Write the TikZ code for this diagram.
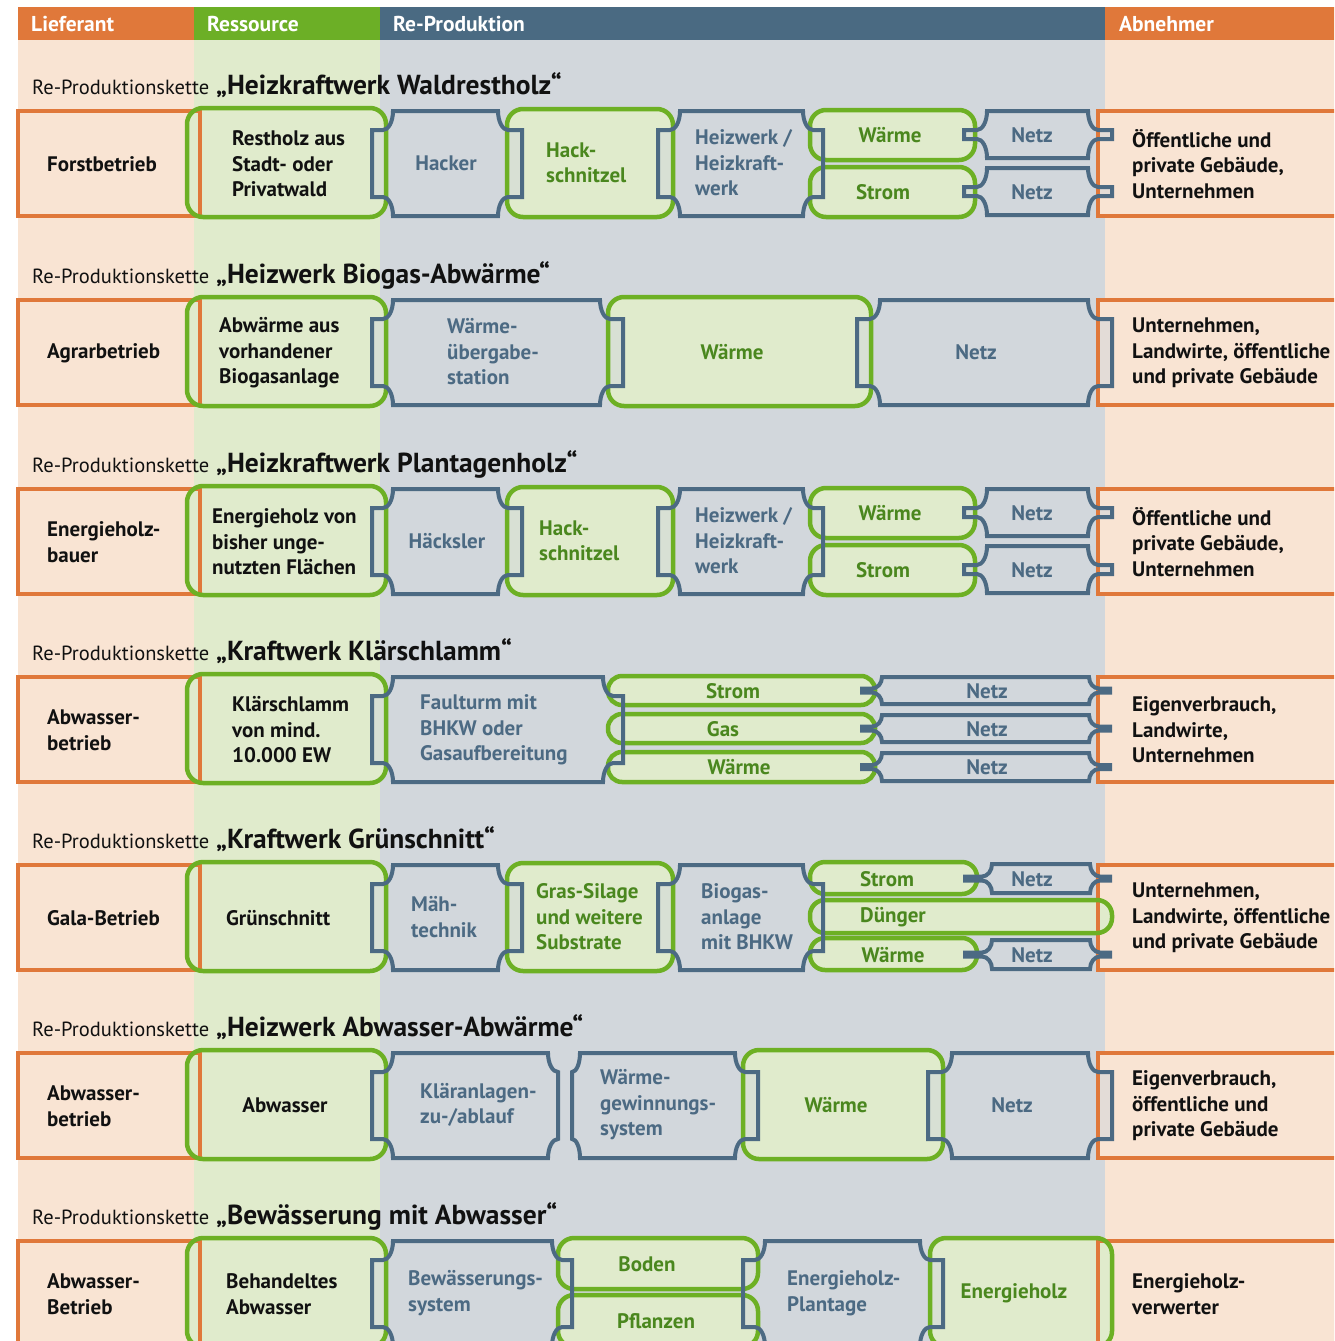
\documentclass[tikz,border=0pt]{standalone}
\usepackage{fontspec}
\setmainfont{PT Sans}
\definecolor{peach}{HTML}{F9E4D3}
\definecolor{orangeh}{HTML}{E0783A}
\definecolor{greenh}{HTML}{6CAF26}
\definecolor{lgreen}{HTML}{E0EBCC}
\definecolor{blueh}{HTML}{4A6A82}
\definecolor{greybg}{HTML}{D2D7DC}
\definecolor{bluel}{HTML}{4C6A83}
\definecolor{gline}{HTML}{6DB024}
\definecolor{gtext}{HTML}{4A871E}
\definecolor{ktext}{HTML}{111111}
\newcount\rpass
\newcount\nodecnt
\tikzset{
  ostroke/.style={draw=orangeh, line width=4.5pt},
  gstroke/.style={draw=gline, line width=4.5pt},
  bstroke/.style={draw=bluel, line width=4pt},
  bfill/.style={fill=greybg, fill opacity=0.55},
  boxfont/.style={font=\bfseries\fontsize{21}{25.5}\selectfont, align=left, inner sep=0pt},
  tk/.style={boxfont, text=ktext},
  tbu/.style={boxfont, text=bluel},
  tgr/.style={boxfont, text=gtext},
  headtxt/.style={font=\bfseries\fontsize{21.5}{24}\selectfont, text=white, anchor=west, inner sep=0pt}
}
% orange box
\newcommand\OB[4]{%
  \ifnum\rpass=0 \path[fill=peach] (#1,#3) rectangle (#2,#4);\fi
  \ifnum\rpass=2 \draw[ostroke] (#1,#3) rectangle (#2,#4);\fi}
% green rounded box
\newcommand\GB[5][16pt]{%
  \ifnum\rpass=0 \path[fill=lgreen, rounded corners=#1] (#2,#4) rectangle (#3,#5);\fi
  \ifnum\rpass=2 \draw[gstroke, rounded corners=#1] (#2,#4) rectangle (#3,#5);\fi}
% blue ticket shape: xl, xr (top edge ends), top, bottom, left ear, right ear
\newcommand\BB[6]{%
  \pgfmathsetmacro\BBt{#3}\pgfmathsetmacro\BBb{#4}%
  \pgfmathsetmacro\BBry{min(19,(\BBb-\BBt)/2-2)}%
  \pgfmathsetmacro\BBrl{min(10,#5)}%
  \pgfmathsetmacro\BBrr{min(10,#6)}%
  \def\BBpath{(#1,\BBt) -- (#2,\BBt)
    .. controls (#2,\BBt+0.55*\BBry) and (#2+0.45*\BBrr,\BBt+\BBry) .. (#2+\BBrr,\BBt+\BBry)
    -- (#2+#6,\BBt+\BBry) -- (#2+#6,\BBb-\BBry) -- (#2+\BBrr,\BBb-\BBry)
    .. controls (#2+0.45*\BBrr,\BBb-\BBry) and (#2,\BBb-0.55*\BBry) .. (#2,\BBb)
    -- (#1,\BBb)
    .. controls (#1,\BBb-0.55*\BBry) and (#1-0.45*\BBrl,\BBb-\BBry) .. (#1-\BBrl,\BBb-\BBry)
    -- (#1-#5,\BBb-\BBry) -- (#1-#5,\BBt+\BBry) -- (#1-\BBrl,\BBt+\BBry)
    .. controls (#1-0.45*\BBrl,\BBt+\BBry) and (#1,\BBt+0.55*\BBry) .. (#1,\BBt) -- cycle}%
  \ifnum\rpass=1 \path[bfill] \BBpath;\fi
  \ifnum\rpass=2 \draw[bstroke] \BBpath;\fi}
\newcommand\ThreePass[1]{\rpass=0 #1\rpass=1 #1\rpass=2 #1}
\newcommand\TL[4]{\global\advance\nodecnt by 1 \node[#1, anchor=west] (t\the\nodecnt) at (#2,#3) {#4};}
\newcommand\TC[4]{\global\advance\nodecnt by 1 \node[#1] (t\the\nodecnt) at (#2,#3) {#4};}
\newcommand\RT[1]{\global\advance\nodecnt by 1 \node[anchor=base west, inner sep=0pt, text=ktext] (t\the\nodecnt) at (32,\T-16) {\fontsize{20.5}{24}\selectfont Re-Produktionskette\bfseries\fontsize{27.5}{30}\selectfont\ „#1“};}
% row shape sets
\newcommand\SidesAndRes{%
  \OB{18}{200}{\T+1}{\T+106}\OB{1098}{1360}{\T+1}{\T+106}%
  \GB{187}{386}{\T-2}{\T+107}}
\newcommand\ShapesA{%
  \SidesAndRes
  \GB{507}{673}{\T-1}{\T+107}%
  \GB{810}{975}{\T}{\T+50}%
  \GB{810}{975}{\T+57}{\T+107}%
  \BB{393}{498}{\T+1}{\T+106}{21}{24}%
  \BB{680}{803}{\T+1}{\T+106}{22}{20}%
  \BB{987}{1088}{\T+1}{\T+48}{23}{24}%
  \BB{987}{1088}{\T+58}{\T+105}{23}{24}}
\newcommand\ShapesB{%
  \SidesAndRes
  \GB{608}{871}{\T-2}{\T+107}%
  \BB{393}{600}{\T+1}{\T+106}{21}{23}%
  \BB{880}{1088}{\T+1}{\T+106}{23}{24}}
\newcommand\ShapesD{%
  \SidesAndRes
  \GB[14pt]{608}{875}{\T}{\T+29}%
  \GB[14pt]{608}{875}{\T+38}{\T+67}%
  \GB[14pt]{608}{875}{\T+76}{\T+106}%
  \BB{393}{603}{\T+1}{\T+106}{21}{20}%
  \BB{882}{1089}{\T+1}{\T+28}{20}{21}%
  \BB{882}{1089}{\T+39}{\T+66}{20}{21}%
  \BB{882}{1089}{\T+77}{\T+105}{20}{21}}
\newcommand\ShapesE{%
  \SidesAndRes
  \GB{507}{673}{\T-1}{\T+107}%
  \GB[15pt]{810}{977}{\T-2}{\T+30}%
  \GB[15pt]{810}{1112}{\T+36}{\T+69}%
  \GB[15pt]{810}{977}{\T+74}{\T+106}%
  \BB{393}{498}{\T+1}{\T+106}{21}{24}%
  \BB{680}{803}{\T+1}{\T+106}{22}{20}%
  \BB{992}{1090}{\T}{\T+29}{27}{20}%
  \BB{992}{1090}{\T+76}{\T+105}{27}{20}}
\newcommand\ShapesF{%
  \SidesAndRes
  \GB{743}{943}{\T-2}{\T+107}%
  \BB{393}{548}{\T+1}{\T+106}{21}{10}%
  \BB{580}{735}{\T+1}{\T+106}{8}{23}%
  \BB{952}{1088}{\T+1}{\T+106}{24}{24}}
\newcommand\ShapesG{%
  \SidesAndRes
  \GB{558}{758}{\T-2}{\T+49}%
  \GB{558}{758}{\T+55}{\T+107}%
  \GB{930}{1112}{\T-2}{\T+107}%
  \BB{393}{552}{\T+1}{\T+106}{21}{20}%
  \BB{765}{920}{\T+1}{\T+106}{22}{23}}
\begin{document}
\begin{tikzpicture}[x=1pt, y=-1pt]
\useasboundingbox (0,0) rectangle (1334,1341);
\begin{scope}
\clip (0,0) rectangle (1334,1341);
\fill[white] (0,0) rectangle (1334,1341);
% columns
\fill[peach] (18,40) rectangle (194,1345);
\fill[lgreen] (194,40) rectangle (380,1345);
\fill[greybg] (380,40) rectangle (1105,1345);
\fill[peach] (1105,40) rectangle (1340,1345);
% header
\fill[orangeh] (18,7) rectangle (194,40);
\fill[greenh] (194,7) rectangle (380,40);
\fill[blueh] (380,7) rectangle (1105,40);
\fill[orangeh] (1105,7) rectangle (1340,40);
\node[headtxt] (hL) at (31,24) {Lieferant};
\node[headtxt] (hR) at (207,24) {Ressource};
\node[headtxt] (hP) at (393,24) {Re-Produktion};
\node[headtxt] (hA) at (1119,24) {Abnehmer};

% ---------- Row 1
\def\T{110}
\ThreePass{\ShapesA}
\RT{Heizkraftwerk Waldrestholz}
\TL{tk}{47}{\T+54}{Forstbetrieb}
\TL{tk}{232}{\T+54}{Restholz aus\\Stadt- oder\\Privatwald}
\TC{tbu}{446}{\T+53}{Hacker}
\TL{tgr}{546}{\T+53}{Hack-\\schnitzel}
\TL{tbu}{695}{\T+53}{Heizwerk /\\Heizkraft-\\werk}
\TC{tgr}{890}{\T+25}{Wärme}
\TC{tgr}{883}{\T+82}{Strom}
\TC{tbu}{1032}{\T+25}{Netz}
\TC{tbu}{1032}{\T+82}{Netz}
\TL{tk}{1132}{\T+54}{Öffentliche und\\private Gebäude,\\Unternehmen}

% ---------- Row 2
\def\T{299}
\ThreePass{\ShapesB}
\RT{Heizwerk Biogas-Abwärme}
\TL{tk}{47}{\T+54}{Agrarbetrieb}
\TL{tk}{219}{\T+54}{Abwärme aus\\vorhandener\\Biogasanlage}
\TL{tbu}{447}{\T+53}{Wärme-\\übergabe-\\station}
\TC{tgr}{732}{\T+53}{Wärme}
\TC{tbu}{976}{\T+53}{Netz}
\TL{tk}{1132}{\T+54}{Unternehmen,\\Landwirte, öffentliche\\und private Gebäude}

% ---------- Row 3
\def\T{488}
\ThreePass{\ShapesA}
\RT{Heizkraftwerk Plantagenholz}
\TL{tk}{47}{\T+54}{Energieholz-\\bauer}
\TL{tk}{212}{\T+54}{Energieholz von\\bisher unge-\\nutzten Flächen}
\TC{tbu}{447}{\T+53}{Häcksler}
\TL{tgr}{539}{\T+53}{Hack-\\schnitzel}
\TL{tbu}{695}{\T+53}{Heizwerk /\\Heizkraft-\\werk}
\TC{tgr}{890}{\T+25}{Wärme}
\TC{tgr}{883}{\T+82}{Strom}
\TC{tbu}{1032}{\T+25}{Netz}
\TC{tbu}{1032}{\T+82}{Netz}
\TL{tk}{1132}{\T+54}{Öffentliche und\\private Gebäude,\\Unternehmen}

% ---------- Row 4
\def\T{676}
\ThreePass{\ShapesD}
\RT{Kraftwerk Klärschlamm}
\TL{tk}{47}{\T+54}{Abwasser-\\betrieb}
\TL{tk}{232}{\T+54}{Klärschlamm\\von mind.\\10.000 EW}
\TL{tbu}{420}{\T+54}{Faulturm mit\\BHKW oder\\Gasaufbereitung}
\TC{tgr}{733}{\T+15}{Strom}
\TC{tgr}{723}{\T+53}{Gas}
\TC{tgr}{739}{\T+91}{Wärme}
\TC{tbu}{987}{\T+15}{Netz}
\TC{tbu}{987}{\T+53}{Netz}
\TC{tbu}{987}{\T+91}{Netz}
\TL{tk}{1132}{\T+54}{Eigenverbrauch,\\Landwirte,\\Unternehmen}

% ---------- Row 5
\def\T{864}
\ThreePass{\ShapesE}
\RT{Kraftwerk Grünschnitt}
\TL{tk}{47}{\T+54}{Gala-Betrieb}
\TL{tk}{226}{\T+54}{Grünschnitt}
\TL{tbu}{411}{\T+53}{Mäh-\\technik}
\TL{tgr}{536}{\T+53}{Gras-Silage\\und weitere\\Substrate}
\TL{tbu}{701}{\T+53}{Biogas-\\anlage\\mit BHKW}
\TC{tgr}{887}{\T+15}{Strom}
\TL{tgr}{860}{\T+53}{Dünger}
\TC{tgr}{893}{\T+91}{Wärme}
\TC{tbu}{1032}{\T+15}{Netz}
\TC{tbu}{1032}{\T+91}{Netz}
\TL{tk}{1132}{\T+54}{Unternehmen,\\Landwirte, öffentliche\\und private Gebäude}

% ---------- Row 6
\def\T{1052}
\ThreePass{\ShapesF}
\RT{Heizwerk Abwasser-Abwärme}
\TL{tk}{47}{\T+54}{Abwasser-\\betrieb}
\TC{tk}{285}{\T+53}{Abwasser}
\TL{tbu}{420}{\T+53}{Kläranlagen-\\zu-/ablauf}
\TL{tbu}{600}{\T+53}{Wärme-\\gewinnungs-\\system}
\TC{tgr}{836}{\T+53}{Wärme}
\TC{tbu}{1012}{\T+53}{Netz}
\TL{tk}{1132}{\T+54}{Eigenverbrauch,\\öffentliche und\\private Gebäude}

% ---------- Row 7
\def\T{1240}
\ThreePass{\ShapesG}
\RT{Bewässerung mit Abwasser}
\TL{tk}{47}{\T+54}{Abwasser-\\Betrieb}
\TL{tk}{226}{\T+54}{Behandeltes\\Abwasser}
\TL{tbu}{408}{\T+53}{Bewässerungs-\\system}
\TC{tgr}{647}{\T+24}{Boden}
\TC{tgr}{656}{\T+81}{Pflanzen}
\TL{tbu}{787}{\T+53}{Energieholz-\\Plantage}
\TC{tgr}{1014}{\T+53}{Energieholz}
\TL{tk}{1132}{\T+54}{Energieholz-\\verwerter}
\end{scope}
\end{tikzpicture}
\end{document}
